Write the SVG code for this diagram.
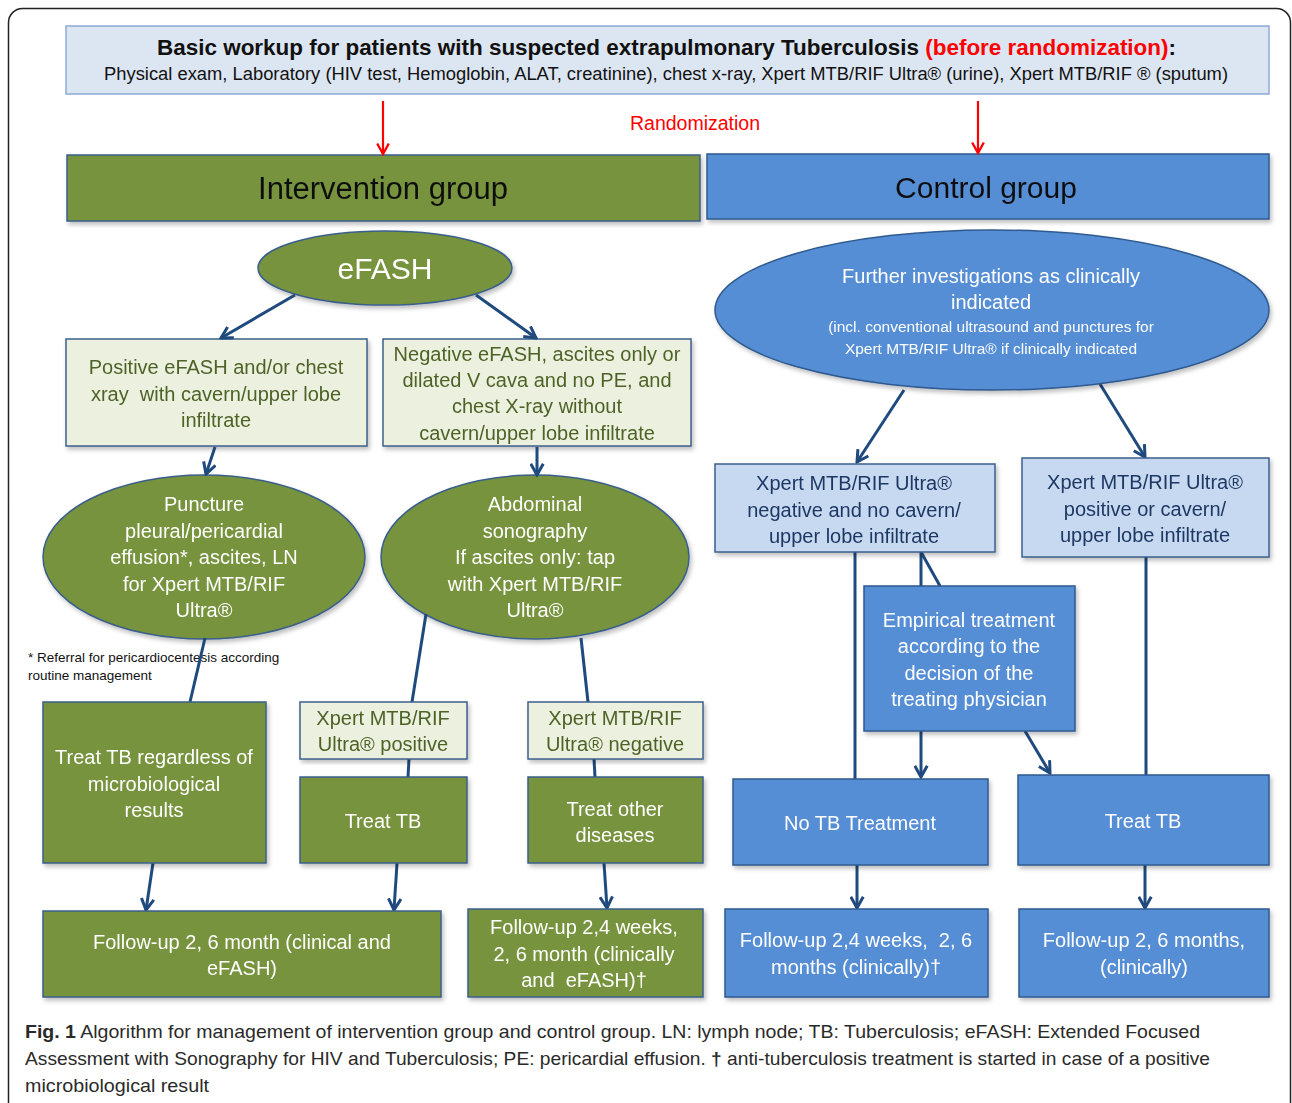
<svg xmlns="http://www.w3.org/2000/svg" width="1292" height="1103" viewBox="0 0 1292 1103">
<defs>
<style>
text{font-family:"Liberation Sans","DejaVu Sans",sans-serif;text-anchor:middle}
.gfill{fill:#77933c;stroke:#3b5f8c;stroke-width:1.5}
.lgreen{fill:#ebf1de;stroke:#3b5f8c;stroke-width:1.5}
.bfill{fill:#558ed5;stroke:#2f5a8f;stroke-width:1.5}
.lblue{fill:#c6d9f1;stroke:#3b5f8c;stroke-width:1.5}
.hdr{fill:#dce6f2;stroke:#8eaad6;stroke-width:1.5}
.wt{fill:#ffffff;font-size:20px}
.gt{fill:#4f6228;font-size:20px}
.bt{fill:#1f3864;font-size:20px}
.con{stroke:#1f4a7e;stroke-width:3;fill:none}
.arr{marker-end:url(#ah)}
.red{stroke:#ff0000;stroke-width:2.2;fill:none;marker-end:url(#rh)}
.sh{filter:url(#ds)}
</style>
<marker id="ah" viewBox="0 0 12 12" refX="10.5" refY="6" markerWidth="15" markerHeight="15" markerUnits="userSpaceOnUse" orient="auto">
<path d="M1.5,1 L10.5,6 L1.5,11" fill="none" stroke="#1f4a7e" stroke-width="2.4"/>
</marker>
<marker id="rh" viewBox="0 0 12 12" refX="10.5" refY="6" markerWidth="14" markerHeight="14" markerUnits="userSpaceOnUse" orient="auto">
<path d="M1.5,1 L10.5,6 L1.5,11" fill="none" stroke="#ff0000" stroke-width="2"/>
</marker>
<filter id="ds" x="-5%" y="-5%" width="112%" height="115%">
<feDropShadow dx="2" dy="3" stdDeviation="2" flood-color="#000" flood-opacity="0.25"/>
</filter>
</defs>
<rect width="1292" height="1103" fill="#ffffff"/>
<rect x="8.5" y="8.5" width="1282" height="1110" rx="14" fill="none" stroke="#222" stroke-width="1.5"/>

<g id="header">
<rect class="hdr" x="66" y="26" width="1203" height="68"/>
<text x="157" y="55" textLength="1019" lengthAdjust="spacingAndGlyphs" style="font-size:22px;font-weight:bold;fill:#111;text-anchor:start">Basic workup for patients with suspected extrapulmonary Tuberculosis <tspan fill="#ff0000">(before randomization)</tspan>:</text>
<text x="104" y="80" textLength="1124" lengthAdjust="spacingAndGlyphs" style="font-size:17.5px;fill:#111;text-anchor:start">Physical exam, Laboratory (HIV test, Hemoglobin, ALAT, creatinine), chest x-ray, Xpert MTB/RIF Ultra® (urine), Xpert MTB/RIF ® (sputum)</text>
</g>
<g id="randomization"><text x="695" y="130" style="font-size:19.5px;fill:#ff0000">Randomization</text></g>

<g id="intervention" class="sh"><rect class="gfill" x="67" y="155" width="633" height="66"/><text x="383" y="199" style="font-size:31px;fill:#111">Intervention group</text></g>
<g id="control" class="sh"><rect class="bfill" x="707" y="154" width="562" height="65"/><text x="986" y="198" style="font-size:30px;fill:#111">Control group</text></g>

<g id="efash" class="sh"><ellipse class="gfill" cx="385" cy="268" rx="127" ry="37"/><text x="385" y="279" style="font-size:30px;fill:#fff">eFASH</text></g>

<g id="pos-efash" class="sh"><rect class="lgreen" x="66" y="339" width="301" height="107"/>
<text class="gt" xml:space="preserve"><tspan x="216" y="374">Positive eFASH and/or chest</tspan><tspan x="216" y="401">xray  with cavern/upper lobe</tspan><tspan x="216" y="427">infiltrate</tspan></text></g>

<g id="neg-efash" class="sh"><rect class="lgreen" x="383" y="339" width="308" height="107"/>
<text class="gt"><tspan x="537" y="361">Negative eFASH, ascites only or</tspan><tspan x="537" y="387">dilated V cava and no PE, and</tspan><tspan x="537" y="413">chest X-ray without</tspan><tspan x="537" y="440">cavern/upper lobe infiltrate</tspan></text></g>

<g id="puncture" class="sh"><ellipse class="gfill" cx="204" cy="557" rx="161" ry="82"/>
<text class="wt"><tspan x="204" y="511">Puncture</tspan><tspan x="204" y="538">pleural/pericardial</tspan><tspan x="204" y="564">effusion*, ascites, LN</tspan><tspan x="204" y="591">for Xpert MTB/RIF</tspan><tspan x="204" y="617">Ultra®</tspan></text></g>

<g id="abdominal" class="sh"><ellipse class="gfill" cx="535" cy="557" rx="154" ry="82"/>
<text class="wt"><tspan x="535" y="511">Abdominal</tspan><tspan x="535" y="538">sonography</tspan><tspan x="535" y="564">If ascites only: tap</tspan><tspan x="535" y="591">with Xpert MTB/RIF</tspan><tspan x="535" y="617">Ultra®</tspan></text></g>

<g id="footnote"><text style="font-size:13.5px;fill:#111;text-anchor:start"><tspan x="28" y="662">* Referral for pericardiocentesis according</tspan><tspan x="28" y="680">routine management</tspan></text></g>

<g id="connectors">
<line class="red" x1="383" y1="101" x2="383" y2="154"/>
<line class="red" x1="978" y1="101" x2="978" y2="153"/>
<line class="con arr" x1="295" y1="295" x2="221" y2="338"/>
<line class="con arr" x1="476" y1="295" x2="536" y2="338"/>
<line class="con arr" x1="215" y1="447" x2="206" y2="474"/>
<line class="con arr" x1="537" y1="447" x2="537" y2="475"/>
<line class="con" x1="205" y1="638" x2="190" y2="702"/>
<line class="con" x1="426" y1="614" x2="412" y2="702"/>
<line class="con" x1="409" y1="759" x2="408" y2="777"/>
<line class="con" x1="581" y1="638" x2="588" y2="702"/>
<line class="con" x1="594" y1="759" x2="595" y2="777"/>
<line class="con arr" x1="153" y1="863" x2="146" y2="910"/>
<line class="con arr" x1="397" y1="863" x2="394" y2="910"/>
<line class="con arr" x1="604" y1="863" x2="607" y2="908"/>
<line class="con arr" x1="904" y1="390" x2="857" y2="462"/>
<line class="con arr" x1="1100" y1="384" x2="1145" y2="457"/>
<line class="con" x1="855" y1="552" x2="855" y2="779"/>
<line class="con" x1="921" y1="552" x2="921" y2="586"/>
<line class="con" x1="921" y1="552" x2="940" y2="586"/>
<line class="con arr" x1="921" y1="731" x2="921" y2="777"/>
<line class="con arr" x1="1025" y1="731" x2="1050" y2="773"/>
<line class="con" x1="1146" y1="557" x2="1146" y2="775"/>
<line class="con arr" x1="857" y1="865" x2="857" y2="908"/>
<line class="con arr" x1="1145" y1="865" x2="1145" y2="908"/>
</g>

<g id="treat-regardless" class="sh"><rect class="gfill" x="43" y="702" width="223" height="161"/>
<text class="wt"><tspan x="154" y="764">Treat TB regardless of</tspan><tspan x="154" y="791">microbiological</tspan><tspan x="154" y="817">results</tspan></text></g>

<g id="xpert-pos" class="sh"><rect class="lgreen" x="300" y="702" width="167" height="57"/>
<text class="gt"><tspan x="383" y="725">Xpert MTB/RIF</tspan><tspan x="383" y="751">Ultra® positive</tspan></text></g>

<g id="treat-tb-i" class="sh"><rect class="gfill" x="300" y="777" width="167" height="86"/><text class="wt" x="383" y="828">Treat TB</text></g>

<g id="xpert-neg" class="sh"><rect class="lgreen" x="528" y="702" width="175" height="57"/>
<text class="gt"><tspan x="615" y="725">Xpert MTB/RIF</tspan><tspan x="615" y="751">Ultra® negative</tspan></text></g>

<g id="treat-other" class="sh"><rect class="gfill" x="528" y="777" width="175" height="86"/>
<text class="wt"><tspan x="615" y="816">Treat other</tspan><tspan x="615" y="842">diseases</tspan></text></g>

<g id="followup-i1" class="sh"><rect class="gfill" x="43" y="911" width="398" height="86"/>
<text class="wt"><tspan x="242" y="949">Follow-up 2, 6 month (clinical and</tspan><tspan x="242" y="975">eFASH)</tspan></text></g>

<g id="followup-i2" class="sh"><rect class="gfill" x="468" y="909" width="235" height="88"/>
<text class="wt" xml:space="preserve"><tspan x="584" y="934">Follow-up 2,4 weeks,</tspan><tspan x="584" y="961">2, 6 month (clinically</tspan><tspan x="584" y="987">and  eFASH)†</tspan></text></g>

<g id="further" class="sh"><ellipse class="bfill" cx="992" cy="310" rx="277" ry="80"/>
<text class="wt"><tspan x="991" y="283">Further investigations as clinically</tspan><tspan x="991" y="309">indicated</tspan></text>
<text style="fill:#fff;font-size:15.5px"><tspan x="991" y="332">(incl. conventional ultrasound and punctures for</tspan><tspan x="991" y="354">Xpert MTB/RIF Ultra® if clinically indicated</tspan></text></g>

<g id="xpert-neg-c" class="sh"><rect class="lblue" x="715" y="464" width="280" height="88"/>
<text class="bt"><tspan x="854" y="490">Xpert MTB/RIF Ultra®</tspan><tspan x="854" y="517">negative and no cavern/</tspan><tspan x="854" y="543">upper lobe infiltrate</tspan></text></g>

<g id="xpert-pos-c" class="sh"><rect class="lblue" x="1022" y="458" width="247" height="99"/>
<text class="bt"><tspan x="1145" y="489">Xpert MTB/RIF Ultra®</tspan><tspan x="1145" y="516">positive or cavern/</tspan><tspan x="1145" y="542">upper lobe infiltrate</tspan></text></g>

<g id="empirical" class="sh"><rect class="bfill" x="864" y="586" width="211" height="145"/>
<text class="wt"><tspan x="969" y="627">Empirical treatment</tspan><tspan x="969" y="653">according to the</tspan><tspan x="969" y="680">decision of the</tspan><tspan x="969" y="706">treating physician</tspan></text></g>

<g id="no-tb" class="sh"><rect class="bfill" x="733" y="779" width="255" height="86"/><text class="wt" x="860" y="830">No TB Treatment</text></g>
<g id="treat-tb-c" class="sh"><rect class="bfill" x="1018" y="775" width="251" height="90"/><text class="wt" x="1143" y="828">Treat TB</text></g>

<g id="followup-c1" class="sh"><rect class="bfill" x="725" y="909" width="263" height="88"/>
<text class="wt" xml:space="preserve"><tspan x="856" y="947">Follow-up 2,4 weeks,  2, 6</tspan><tspan x="856" y="974">months (clinically)†</tspan></text></g>

<g id="followup-c2" class="sh"><rect class="bfill" x="1019" y="909" width="250" height="88"/>
<text class="wt"><tspan x="1144" y="947">Follow-up 2, 6 months,</tspan><tspan x="1144" y="974">(clinically)</tspan></text></g>

<g id="caption">
<text style="font-size:18.5px;fill:#2a2a2a;text-anchor:start"><tspan x="25" y="1038" textLength="1175" lengthAdjust="spacingAndGlyphs"><tspan font-weight="bold">Fig. 1</tspan> Algorithm for management of intervention group and control group. LN: lymph node; TB: Tuberculosis; eFASH: Extended Focused</tspan></text>
<text style="font-size:18.5px;fill:#2a2a2a;text-anchor:start" x="25" y="1065" textLength="1185" lengthAdjust="spacingAndGlyphs">Assessment with Sonography for HIV and Tuberculosis; PE: pericardial effusion. <tspan font-weight="bold">†</tspan> anti-tuberculosis treatment is started in case of a positive</text>
<text style="font-size:18.5px;fill:#2a2a2a;text-anchor:start" x="25" y="1092" textLength="184" lengthAdjust="spacingAndGlyphs">microbiological result</text>
</g>
</svg>
